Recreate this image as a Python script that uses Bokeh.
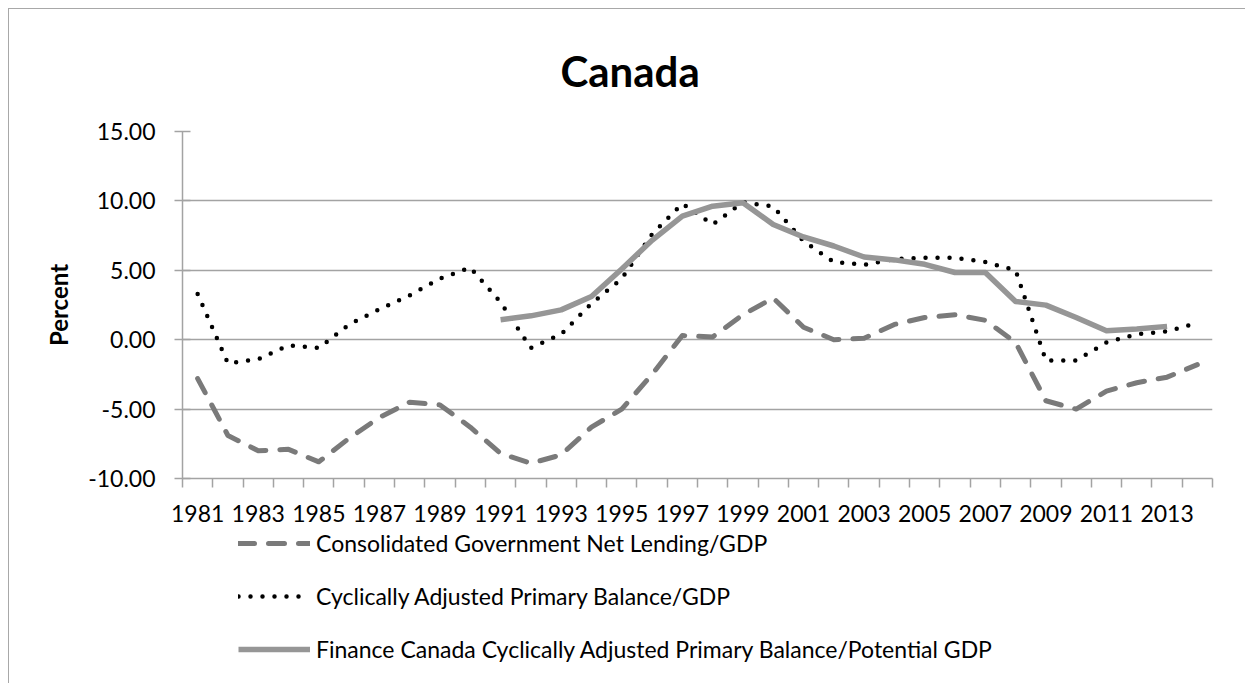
from bokeh.plotting import figure
from bokeh.layouts import column
from bokeh.models import (FixedTicker, NumeralTickFormatter, Legend, LegendItem,
                          Range1d, Title)
from bokeh.embed import file_html
from bokeh.resources import INLINE

# ---------------- data ----------------
years = [1981, 1982, 1983, 1984, 1985, 1986, 1987, 1988, 1989, 1990,
         1991, 1992, 1993, 1994, 1995, 1996, 1997, 1998, 1999, 2000,
         2001, 2002, 2003, 2004, 2005, 2006, 2007, 2008, 2009, 2010,
         2011, 2012, 2013, 2014]
net_lending = [-2.8, -6.9, -8.0, -7.9, -8.8, -7.1, -5.6, -4.5, -4.7, -6.3,
               -8.2, -8.9, -8.3, -6.3, -5.0, -2.5, 0.3, 0.2, 1.8, 3.0,
               0.9, 0.0, 0.1, 1.1, 1.6, 1.8, 1.4, -0.2, -4.4, -5.0,
               -3.7, -3.1, -2.7, -1.8]
capb = [3.3, -1.7, -1.4, -0.4, -0.6, 1.1, 2.2, 3.2, 4.4, 5.2,
        2.7, -0.6, 0.4, 2.6, 4.4, 7.6, 9.8, 8.3, 9.9, 9.6,
        7.1, 5.6, 5.4, 5.8, 5.9, 5.9, 5.6, 5.0, -1.5, -1.5,
        -0.2, 0.4, 0.6, 1.2]
fin_years = [1991, 1992, 1993, 1994, 1995, 1996, 1997, 1998, 1999, 2000,
             2001, 2002, 2003, 2004, 2005, 2006, 2007, 2008, 2009, 2010,
             2011, 2012, 2013]
finance = [1.44, 1.72, 2.15, 3.11, 5.1, 7.16, 8.9, 9.62, 9.86, 8.3,
           7.4, 6.75, 5.96, 5.75, 5.43, 4.84, 4.84, 2.75, 2.49, 1.6,
           0.65, 0.77, 0.96]
y_ticks = [-10, -5, 0, 5, 10, 15]
x_label_years = [1981, 1983, 1985, 1987, 1989, 1991, 1993, 1995, 1997, 1999,
                 2001, 2003, 2005, 2007, 2009, 2011, 2013]
series_names = ["Consolidated Government Net Lending/GDP",
                "Cyclically Adjusted Primary Balance/GDP",
                "Finance Canada Cyclically Adjusted Primary Balance/Potential GDP"]
title_text = "Canada"
y_label = "Percent"

FONT = "Lato"
GRID = "#a3a3a3"
STYLES = [
    dict(line_color="#7a7a7a", line_width=5, line_dash="16 14",
         line_cap="round", line_join="round"),
    dict(line_color="black", line_width=4.5, line_dash="0 12",
         line_cap="round", line_join="round"),
    dict(line_color="#969696", line_width=5.5, line_join="round"),
]

p = figure(width=1236, height=519, output_backend="svg", toolbar_location=None,
           x_range=Range1d(years[0] - 0.5, years[-1] + 0.5),
           y_range=Range1d(-10, 15),
           min_border_left=173, min_border_right=33,
           min_border_top=121, min_border_bottom=50)
p.outline_line_color = None
p.background_fill_color = "white"
p.border_fill_color = "white"

p.title = Title(text=title_text, align="left", offset=378, standoff=70,
                vertical_align="middle",
                text_font=FONT, text_font_size="42px", text_font_style="bold",
                text_color="black")

# x axis
p.xaxis.ticker = FixedTicker(ticks=x_label_years,
                             minor_ticks=[y - 0.5 for y in years] + [years[-1] + 0.5])
p.xaxis.major_tick_line_color = None
p.xaxis.major_tick_out = 0
p.xaxis.major_tick_in = 0
p.xaxis.minor_tick_line_color = GRID
p.xaxis.minor_tick_line_width = 1.5
p.xaxis.minor_tick_out = 9
p.xaxis.minor_tick_in = 0
p.xaxis.axis_line_color = GRID
p.xaxis.axis_line_width = 1.5
p.xaxis.major_label_standoff = 17
p.xaxis.major_label_text_font = FONT
p.xaxis.major_label_text_font_size = "23px"
p.xaxis.major_label_text_color = "black"

# y axis
p.yaxis.ticker = FixedTicker(ticks=y_ticks)
p.yaxis.formatter = NumeralTickFormatter(format="0.00")
p.yaxis.minor_tick_line_color = None
p.yaxis.major_tick_line_color = GRID
p.yaxis.major_tick_line_width = 1.5
p.yaxis.major_tick_out = 8
p.yaxis.major_tick_in = 8
p.yaxis.axis_line_color = GRID
p.yaxis.axis_line_width = 1.5
p.yaxis.major_label_standoff = 19
p.yaxis.major_label_text_font = FONT
p.yaxis.major_label_text_font_size = "23px"
p.yaxis.major_label_text_color = "black"
p.yaxis.axis_label = y_label
p.yaxis.axis_label_text_font = FONT
p.yaxis.axis_label_text_font_size = "24px"
p.yaxis.axis_label_text_font_style = "bold"
p.yaxis.axis_label_text_color = "black"
p.yaxis.axis_label_standoff = 12

p.xgrid.grid_line_color = None
p.ygrid.grid_line_color = GRID
p.ygrid.grid_line_width = 1.5

r1 = p.line(years, net_lending, **STYLES[0])
r2 = p.line(years, capb, **STYLES[1])
r3 = p.line(fin_years, finance, **STYLES[2])

# legend panel (separate figure below the chart); its glyphs reuse the
# series' data but lie outside this panel's visible range
p2 = figure(width=1236, height=155, output_backend="svg", toolbar_location=None,
            x_range=Range1d(0, 1), y_range=Range1d(0, 1),
            x_axis_location=None, y_axis_location=None, min_border=0)
p2.outline_line_color = None
p2.grid.grid_line_color = None
lr = [p2.line(years, net_lending, **STYLES[0]),
      p2.line(years, capb, **STYLES[1]),
      p2.line(fin_years, finance, **STYLES[2])]
legend = Legend(items=[LegendItem(label=n, renderers=[r]) for n, r in zip(series_names, lr)],
                location=(56, 20), orientation="vertical",
                padding=0, margin=0, spacing=25,
                glyph_width=72, glyph_height=28, label_height=28,
                label_standoff=6,
                label_text_font=FONT, label_text_font_size="23px",
                label_text_color="black",
                border_line_color=None, background_fill_alpha=0)
p2.add_layout(legend, "center")

layout = column(p, p2, spacing=0, margin=(8, 0, 0, 8),
                styles={"border-left": "1px solid #a8a8a8",
                        "border-top": "1px solid #a8a8a8"})

open("out.html", "w").write(file_html(layout, INLINE))
